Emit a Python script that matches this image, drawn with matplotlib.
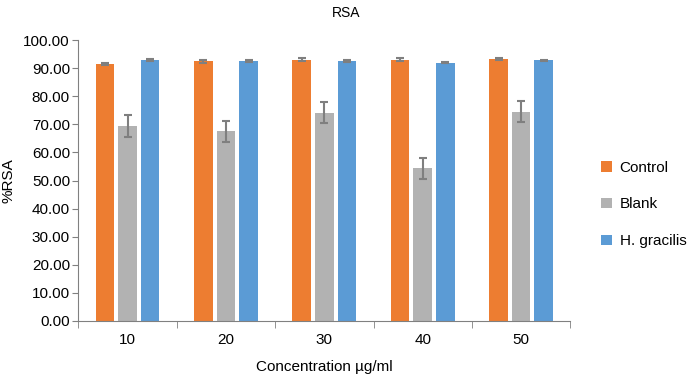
import matplotlib.pyplot as plt
import numpy as np

plt.rcParams['font.family'] = ['Liberation Sans', 'DejaVu Sans']

conc = ['10', '20', '30', '40', '50']
control = [91.5, 92.5, 93.0, 93.0, 93.2]
control_err = [0.5, 0.5, 0.5, 0.5, 0.4]
blank = [69.4, 67.5, 74.2, 54.3, 74.5]
blank_err = [3.8, 3.7, 3.8, 3.8, 3.8]
hgrac = [93.0, 92.5, 92.6, 92.0, 92.8]
hgrac_err = [0.3, 0.3, 0.3, 0.3, 0.3]

fig = plt.figure(figsize=(6.93, 3.75), dpi=100)
ax = fig.add_axes([0.113, 0.144, 0.71, 0.749])

x = np.arange(len(conc))
w = 0.19
off = 0.23
ekw = dict(ecolor='#7f7f7f', elinewidth=1.5, capsize=3, capthick=1.5)
ax.bar(x - off, control, w, yerr=control_err, color='#ED7D31', label='Control', error_kw=ekw)
ax.bar(x, blank, w, yerr=blank_err, color='#B2B2B2', label='Blank', error_kw=ekw)
ax.bar(x + off, hgrac, w, yerr=hgrac_err, color='#5B9BD5', label='H. gracilis', error_kw=ekw)

ax.set_xlim(-0.5, len(conc) - 0.5)
ax.set_ylim(0, 100)
ax.set_yticks(np.arange(0, 101, 10))
ax.set_yticklabels(['%.2f' % v for v in np.arange(0, 101, 10)])
ax.set_xticks(x)
ax.set_xticklabels(conc)
ax.set_xticks(np.arange(-0.5, len(conc), 1), minor=True)
ax.tick_params(axis='x', which='major', length=0, labelsize=11, pad=9)
ax.tick_params(axis='x', which='minor', length=5, color='#808080')
ax.tick_params(axis='y', length=4, color='#808080', labelsize=11, pad=2)

for s in ['top', 'right']:
    ax.spines[s].set_visible(False)
for s in ['left', 'bottom']:
    ax.spines[s].set_color('#808080')

ax.set_xlabel('Concentration µg/ml', fontsize=11, labelpad=9)
ax.set_ylabel('%RSA', fontsize=11, labelpad=6)
fig.text(0.5, 0.965, 'RSA', ha='center', va='center', fontsize=10)

ax.legend(loc='center left', bbox_to_anchor=(1.035, 0.415), frameon=False,
          fontsize=11, labelspacing=1.5, handlelength=0.7, handleheight=0.7,
          handletextpad=0.5)

fig.savefig('out.png', dpi=100)
